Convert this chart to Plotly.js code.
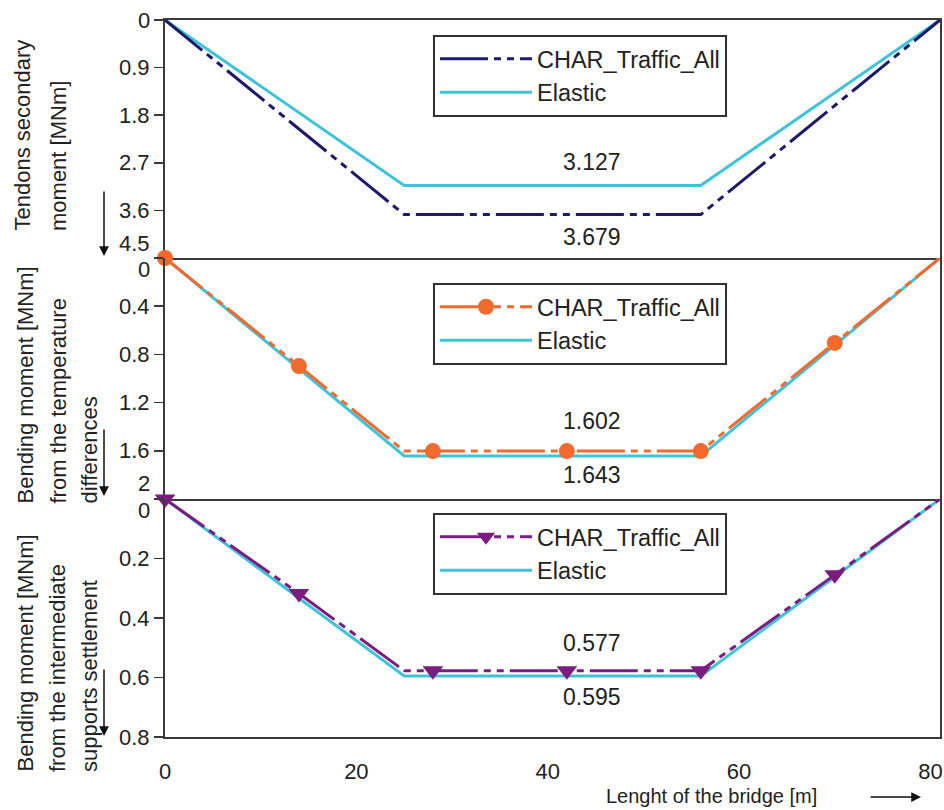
<!DOCTYPE html>
<html>
<head>
<meta charset="utf-8">
<script src="https://cdn.plot.ly/plotly-3.0.1.min.js"></script>
<style>html,body{margin:0;padding:0;background:#fff;}#chart{width:944px;height:810px;}</style>
</head>
<body>
<div id="chart"></div>
<script>
// ---- data ----
var spanX = [0, 25, 56, 81];
var markX = [0, 14, 25, 28, 42, 56, 70, 81];
var markedPoints = [0, 1, 3, 4, 5, 6]; // indices in markX that carry a marker

var tendonsChar = [0, 3.679, 3.679, 0];
var tendonsElastic = [0, 3.127, 3.127, 0];

var tempChar = [0, 0.897, 1.602, 1.602, 1.602, 1.602, 0.705, 0];
var tempElastic = [0, 1.643, 1.643, 0];

var settleChar = [0, 0.318, 0.577, 0.577, 0.577, 0.577, 0.255, 0];
var settleElastic = [0, 0.595, 0.595, 0];

var tendonsTicks = [0, 0.9, 1.8, 2.7, 3.6, 4.5];
var tempTicks = [0, 0.4, 0.8, 1.2, 1.6, 2];
var settleTicks = [0, 0.2, 0.4, 0.6, 0.8];
var xTicks = [0, 20, 40, 60, 80];

var seriesNames = ['CHAR_Traffic_All', 'Elastic'];
var yTitles = [
  ['Tendons secondary', 'moment [MNm]'],
  ['Bending moment [MNm]', 'from the temperature', 'differences'],
  ['Bending moment [MNm]', 'from the intermediate', 'supports settlement']
];
var xTitle = 'Lenght of the bridge [m]';

// ---- style ----
var FONT = 'Liberation Sans, Arial, sans-serif';
var TXT = '#222';
var AX = '#3a3a3a';
var cyan = '#3ec3db';
var navy = '#1d1a6b';
var orange = '#f26b2c';
var purple = '#7b1c80';
var dashCh = '48px,6px,7px,6px,7px,6px';

var L = 165, R = 940, T = 20, B = 737;
function px(x) { return (x - L) / (R - L); }
function py(y) { return (B - y) / (B - T); }

var traces = [
  {x: spanX, y: tendonsElastic, xaxis: 'x', yaxis: 'y', name: seriesNames[1], mode: 'lines',
   line: {color: cyan, width: 3}, legend: 'legend', legendrank: 2, legendgroup: 'b'},
  {x: spanX, y: tendonsChar, xaxis: 'x', yaxis: 'y', name: seriesNames[0], mode: 'lines',
   line: {color: navy, width: 3, dash: dashCh}, legend: 'legend', legendrank: 1, legendgroup: 'a'},

  {x: spanX, y: tempElastic, xaxis: 'x2', yaxis: 'y2', name: seriesNames[1], mode: 'lines',
   line: {color: cyan, width: 3}, legend: 'legend2', legendrank: 2, legendgroup: 'b'},
  {x: markX, y: tempChar, xaxis: 'x2', yaxis: 'y2', name: seriesNames[0], mode: 'lines+markers',
   line: {color: orange, width: 3, dash: dashCh},
   marker: {color: orange, symbol: 'circle', size: 16, opacity: 1},
   selectedpoints: markedPoints, selected: {marker: {opacity: 1}}, unselected: {marker: {opacity: 0}},
   cliponaxis: false, legend: 'legend2', legendrank: 1, legendgroup: 'a'},

  {x: spanX, y: settleElastic, xaxis: 'x3', yaxis: 'y3', name: seriesNames[1], mode: 'lines',
   line: {color: cyan, width: 3}, legend: 'legend3', legendrank: 2, legendgroup: 'b'},
  {x: markX, y: settleChar, xaxis: 'x3', yaxis: 'y3', name: seriesNames[0], mode: 'lines+markers',
   line: {color: purple, width: 3, dash: dashCh},
   marker: {color: purple, symbol: 'triangle-down', size: 18, opacity: 1},
   selectedpoints: markedPoints, selected: {marker: {opacity: 1}}, unselected: {marker: {opacity: 0}},
   cliponaxis: false, legend: 'legend3', legendrank: 1, legendgroup: 'a'}
];

function xax(anchor, showLabels, mirror) {
  return {
    anchor: anchor, domain: [0, 1], range: [0, 81], showgrid: false, zeroline: false,
    showline: true, mirror: mirror, linecolor: AX, linewidth: 2,
    ticks: '', tickvals: xTicks, showticklabels: showLabels, ticklabelstandoff: 14,
    tickfont: {family: FONT, size: 22, color: TXT}
  };
}
function yax(anchor, dom, range, tv) {
  return {
    anchor: anchor, domain: dom, range: range, showgrid: false, zeroline: false,
    showline: true, mirror: true, linecolor: AX, linewidth: 2,
    ticks: 'outside', ticklen: 9, tickwidth: 1.5, tickcolor: AX, tickvals: tv,
    showticklabels: false
  };
}

var d3top = py(499), d2top = py(258);

var annotations = [];
function tickLabels(yref, vals, shifts) {
  vals.forEach(function(v, i) {
    annotations.push({xref: 'paper', yref: yref, x: 0, y: v, xanchor: 'right', yanchor: 'middle',
      xshift: -13, yshift: shifts[i] || 0, text: String(v), showarrow: false,
      font: {family: FONT, size: 22, color: TXT}});
  });
}
tickLabels('y', tendonsTicks, [0, 0, 0, 0, 0, 15]);
tickLabels('y2', tempTicks, [-11, 0, 0, 0, 0, 16]);
tickLabels('y3', settleTicks, [-11, 0, 0, 0, 0]);

function valueLabel(xref, yref, v, shift) {
  annotations.push({xref: xref, yref: yref, x: 44.6, y: v, yshift: shift, text: v.toFixed(3),
    showarrow: false, font: {family: FONT, size: 23, color: TXT}});
}
valueLabel('x', 'y', tendonsElastic[1], 23);
valueLabel('x', 'y', tendonsChar[1], -22);
valueLabel('x2', 'y2', tempChar[2], 30);
valueLabel('x2', 'y2', tempElastic[1], -19);
valueLabel('x3', 'y3', settleChar[2], 28);
valueLabel('x3', 'y3', settleElastic[1], -21);

// rotated y titles (bottom-aligned lines)
var titleCols = [[22, 58], [25, 58, 89], [25, 57, 89]];
var titleBottoms = [233, 506, 774];
yTitles.forEach(function(lines, p) {
  lines.forEach(function(t, i) {
    annotations.push({xref: 'paper', yref: 'paper', x: px(titleCols[p][i]), y: py(titleBottoms[p]),
      xanchor: 'center', yanchor: 'bottom', textangle: -90, text: t, showarrow: false,
      font: {family: FONT, size: 22, color: TXT}});
  });
});

// down arrows near y titles
[[190, 256], [428, 496], [668, 736]].forEach(function(a) {
  annotations.push({xref: 'paper', yref: 'paper', x: px(104), y: py(a[1]), ax: 0, ay: -(a[1] - a[0]),
    axref: 'pixel', ayref: 'pixel', text: '', showarrow: true, arrowhead: 2, arrowsize: 1.3,
    arrowwidth: 1.5, arrowcolor: '#111'});
});

// x title + right arrow
annotations.push({xref: 'paper', yref: 'paper', x: px(711), y: py(796), xanchor: 'center', yanchor: 'middle',
  text: xTitle, showarrow: false, font: {family: FONT, size: 20, color: TXT}});
annotations.push({xref: 'paper', yref: 'paper', x: px(921), y: py(797), ax: -52, ay: 0,
  axref: 'pixel', ayref: 'pixel', text: '', showarrow: true, arrowhead: 2, arrowsize: 1.3,
  arrowwidth: 1.5, arrowcolor: '#111'});

function leg(ytop) {
  return {x: px(433), y: py(ytop), xanchor: 'left', yanchor: 'top', bgcolor: '#fff',
    bordercolor: '#333', borderwidth: 2, itemwidth: 92, traceorder: 'grouped', tracegroupgap: 0,
    entrywidth: 290, entrywidthmode: 'pixels',
    font: {family: FONT, size: 23.5, color: TXT}};
}

var layout = {
  width: 944, height: 810,
  margin: {l: L, r: 944 - R, t: T, b: 810 - B, pad: 0},
  paper_bgcolor: '#fff', plot_bgcolor: '#fff',
  showlegend: true,
  legend: leg(35), legend2: leg(283), legend3: leg(513),
  xaxis: xax('y', false, true), xaxis2: xax('y2', false, false), xaxis3: xax('y3', true, false),
  yaxis: yax('x', [d2top, 1], [4.5, 0], tendonsTicks),
  yaxis2: yax('x2', [d3top, d2top], [2, 0], tempTicks),
  yaxis3: yax('x3', [0, d3top], [0.8, 0], settleTicks),
  annotations: annotations
};

Plotly.newPlot('chart', traces, layout, {displayModeBar: false, staticPlot: true});
</script>
</body>
</html>
